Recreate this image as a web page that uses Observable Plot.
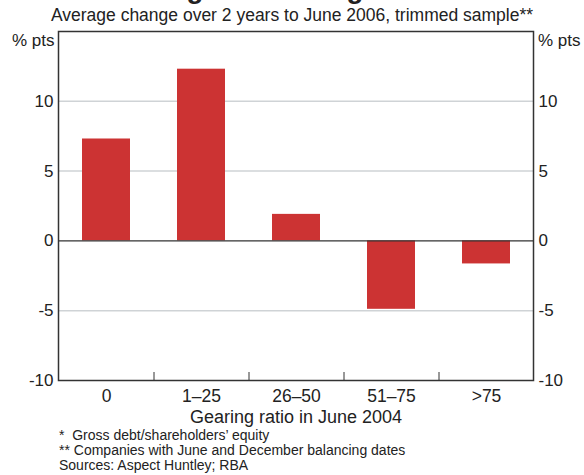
<!DOCTYPE html>
<html>
<head>
<meta charset="utf-8">
<script src="https://cdn.jsdelivr.net/npm/d3@7"></script>
<script src="https://cdn.jsdelivr.net/npm/@observablehq/plot@0.6"></script>
<style>
  html, body { margin: 0; padding: 0; background: #fff; }
  #wrap { position: relative; width: 584px; height: 475px; overflow: hidden; font-family: "Liberation Sans", Arial, sans-serif; color: #222; }
  #wrap svg { position: absolute; left: 0; top: 0; }
  .t { position: absolute; white-space: nowrap; }
</style>
</head>
<body>
<div id="wrap">
  <div class="t" id="title" style="left:0; width:584px; text-align:center; top:-27px; font-size:27.7px; font-weight:bold;">Change in Gearing Ratios*</div>
  <div class="t" id="subtitle" style="left:0; width:584px; text-align:center; top:5px; font-size:17.5px;">Average change over 2 years to June 2006, trimmed sample**</div>
  <div class="t" style="left:12px; top:31px; font-size:17px;">% pts</div>
  <div class="t" style="left:538px; top:31px; font-size:17px;">% pts</div>
  <div class="t" style="left:59px; top:428px; font-size:14px; line-height:15px;">*&nbsp;&nbsp;Gross debt/shareholders’ equity<br>** Companies with June and December balancing dates<br>Sources: Aspect Huntley; RBA</div>
</div>
<script>
const categories = ["0", "1–25", "26–50", "51–75", ">75"];
const values = [7.3, 12.3, 1.9, -4.9, -1.65];
const yTicks = [-10, -5, 0, 5, 10];
const gridValues = [-5, 5, 10];
const yDomain = [-10, 15];
const xLabel = "Gearing ratio in June 2004";

const data = categories.map((c, i) => ({cat: c, val: values[i]}));

const W = 584, H = 430;
const mt = 31, mb = 50, ml = 58, mr = 51;
const innerW = W - ml - mr;
const innerH = H - mt - mb;
const step = innerW / categories.length;
const tickLenUnits = 8 * (yDomain[1] - yDomain[0]) / innerH;

const chart = Plot.plot({
  width: W,
  height: H,
  marginTop: mt,
  marginBottom: mb,
  marginLeft: ml,
  marginRight: mr,
  style: {fontFamily: '"Liberation Sans", Arial, sans-serif', fontSize: "17px", color: "#222", background: "transparent"},
  x: {domain: categories, paddingInner: 0.5, paddingOuter: 0.25},
  y: {domain: yDomain},
  marks: [
    Plot.ruleY(gridValues, {stroke: "#cfd3d6", strokeWidth: 1.5}),
    Plot.barY(data, {x: "cat", y: "val", fill: "#cc3333"}),
    Plot.ruleY([0], {stroke: "#333", strokeWidth: 1.3}),
    Plot.ruleX(categories.slice(1), {x: d => d, dx: -step / 2, y1: yDomain[0], y2: yDomain[0] + tickLenUnits, stroke: "#333", strokeWidth: 1}),
    Plot.frame({stroke: "#333", strokeWidth: 1.5}),
    Plot.axisY({anchor: "left", ticks: yTicks, tickSize: 0, tickPadding: 5, tickFormat: d => String(d), label: null, fontSize: 17}),
    Plot.axisY({anchor: "right", ticks: yTicks, tickSize: 0, tickPadding: 5, tickFormat: d => String(d), label: null, fontSize: 17}),
    Plot.axisX({tickSize: 0, tickPadding: 9, label: null, fontSize: 17.5}),
    Plot.text([xLabel], {frameAnchor: "bottom", dy: 42, fontSize: 18, fill: "#222"})
  ]
});
document.getElementById("wrap").appendChild(chart);
</script>
</body>
</html>
